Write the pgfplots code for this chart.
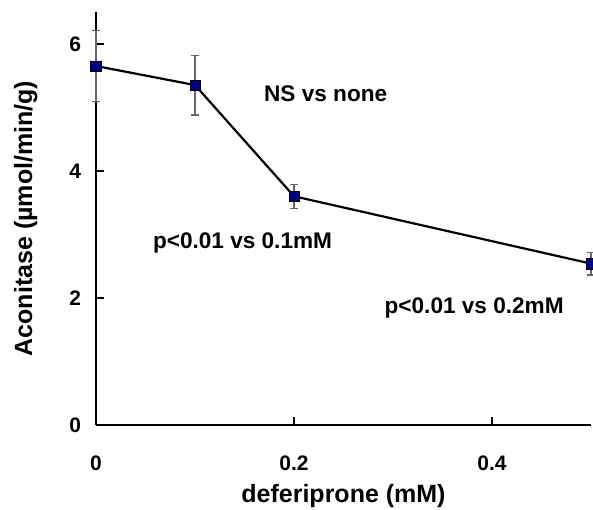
\documentclass[border=0pt]{standalone}
\usepackage{fontspec}
\setmainfont{Liberation Sans}
\usepackage{pgfplots}
\pgfplotsset{compat=1.18}
\definecolor{navy}{RGB}{0,0,128}
\begin{document}
\begin{tikzpicture}
\begin{axis}[
  scale only axis,
  width=247.5pt, height=206.5pt,
  xmin=0, xmax=0.5, ymin=0, ymax=6.5,
  axis x line*=bottom, axis y line*=left,
  axis line style={line width=1pt, -},
  xtick={0,0.2,0.4}, ytick={0,2,4,6},
  xticklabels={0,0.2,0.4}, yticklabels={0,2,4,6},
  tick align=inside, major tick length=4pt,
  tick style={black, line width=0.8pt},
  /pgf/number format/assume math mode=true,
  tick label style={font=\bfseries\fontsize{10.5}{10.5}\selectfont},
  xticklabel style={yshift=-12pt},
  yticklabel style={xshift=-4pt},
  xlabel={deferiprone (mM)},
  ylabel={Aconitase (µmol/min/g)},
  label style={font=\bfseries\fontsize{12.5}{14}\selectfont},
  xlabel style={yshift=0pt},
  ylabel style={yshift=9pt},
  clip=false,
]
\addplot[black, line width=1.1pt,
  mark=square*, mark size=2.6pt,
  mark options={fill=navy, draw=black, line width=0.3pt},
  error bars/.cd, y dir=both, y explicit,
  error bar style={gray!80!black, line width=0.6pt},
  error mark options={rotate=90, mark size=2.2pt, gray!80!black, line width=0.6pt}]
  coordinates {
  (0,5.65) +- (0,0.56)
  (0.1,5.35) +- (0,0.47)
  (0.2,3.60) +- (0,0.19)
  (0.5,2.54) +- (0,0.18)
};
\node[font=\bfseries\fontsize{11.3}{13}\selectfont] at (axis cs:0.232,5.21) {NS vs none};
\node[font=\bfseries\fontsize{11.3}{13}\selectfont] at (axis cs:0.148,2.87) {p<0.01 vs 0.1mM};
\node[font=\bfseries\fontsize{11.3}{13}\selectfont] at (axis cs:0.382,1.85) {p<0.01 vs 0.2mM};
\end{axis}
\pgfresetboundingbox
\path[use as bounding box] (-48pt,-42pt) rectangle (248.5pt,212.5pt);
\end{tikzpicture}
\end{document}
